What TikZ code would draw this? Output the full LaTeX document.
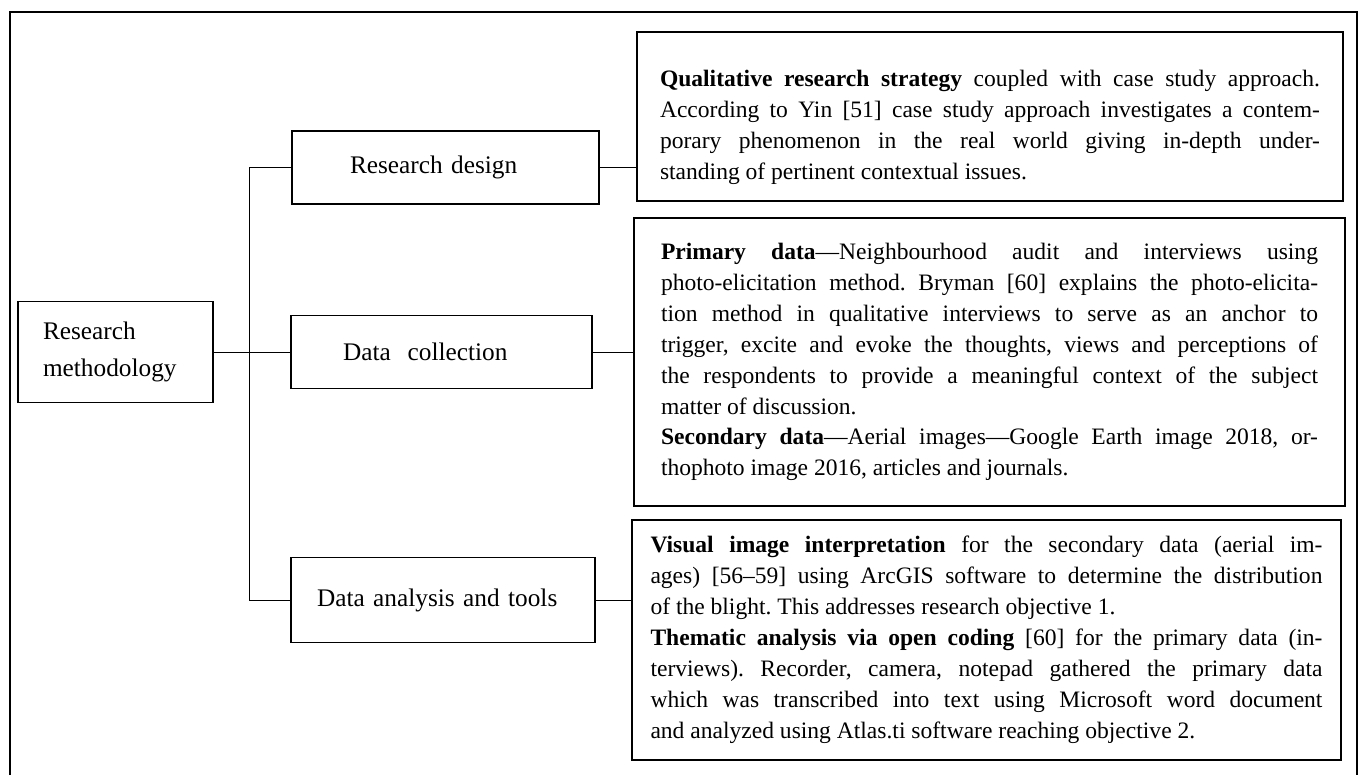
\documentclass[tikz,border=0pt]{standalone}
\usepackage{fontspec}
\setmainfont{Liberation Serif}
\setlength{\parindent}{0pt}
\tolerance=10000
\hbadness=10000
\frenchspacing
\tikzset{
    box/.style={draw, line width=0.8pt, align=left, inner ysep=0pt,
        font=\fontsize{14.4}{21.5}\selectfont},
    textbox/.style={draw, line width=0.8pt, align=justify, inner ysep=0pt,
        font=\fontsize{13.4}{17.6}\selectfont},
    link/.style={line width=0.5pt},
}

\begin{document}
\begin{tikzpicture}
\useasboundingbox (0,0) rectangle (27.2,-15.5);
\draw[line width=1.2pt] (0.2,-15.5) -- (0.2,-0.24) -- (27.14,-0.24) -- (27.14,-15.5);

%left column
\node[box, text width=2.9cm, inner xsep=0.5cm, minimum height=2.02cm] (rm) at (2.31,-7.04) {Research\\methodology};
\node[box, text width=3.82cm, inner xsep=1.16cm, minimum height=1.46cm] (design) at (8.91,-3.35) {Research design};
\node[box, text width=3.94cm, inner xsep=1.04cm, minimum height=1.46cm] (collect) at (8.83,-7.04) {Data\ \ collection};
\node[box, text width=5.04cm, inner xsep=0.52cm, minimum height=1.7cm] (analysis) at (8.86,-12.0) {Data analysis and tools};

%right column
\node[textbox, text width=13.2cm, inner xsep=0.46cm, minimum height=3.38cm] (strategy) at (19.8,-2.33) {\rule{0pt}{22pt}%
\textbf{Qualitative research strategy} coupled with case study approach.\linebreak
According to Yin [51] case study approach investigates a contem-\linebreak
porary phenomenon in the real world giving in-depth under-\linebreak
standing of pertinent contextual issues.};
\node[textbox, text width=13.14cm, inner xsep=0.54cm, minimum height=5.76cm] (datatext) at (19.79,-7.24) {%
\textbf{Primary data}—Neighbourhood audit and interviews using\linebreak
photo-elicitation method. Bryman [60] explains the photo-elicita-\linebreak
tion method in qualitative interviews to serve as an anchor to\linebreak
trigger, excite and evoke the thoughts, views and perceptions of\linebreak
the respondents to provide a meaningful context of the subject\linebreak
matter of discussion.\par
\textbf{Secondary data}—Aerial images—Google Earth image 2018, or-\linebreak
thophoto image 2016, articles and journals.};
\node[textbox, text width=13.44cm, inner xsep=0.37cm, minimum height=4.8cm] (analysistext) at (19.73,-12.8) {%
\textbf{Visual image interpretation} for the secondary data (aerial im-\linebreak
ages) [56–59] using ArcGIS software to determine the distribution\linebreak
of the blight. This addresses research objective 1.\par
\textbf{Thematic analysis via open coding} [60] for the primary data (in-\linebreak
terviews). Recorder, camera, notepad gathered the primary data\linebreak
which was transcribed into text using Microsoft word document\linebreak
and analyzed using Atlas.ti software reaching objective 2.};

%connectors
\draw[link] (design.west) -- ++(-0.84,0) |- (analysis.west);
\draw[link] (rm.east) -- (collect.west);
\draw[link] (design.east) -- (design.east -| strategy.west);
\draw[link] (collect.east) -- (collect.east -| datatext.west);
\draw[link] (analysis.east) -- (analysis.east -| analysistext.west);
\end{tikzpicture}
\end{document}
